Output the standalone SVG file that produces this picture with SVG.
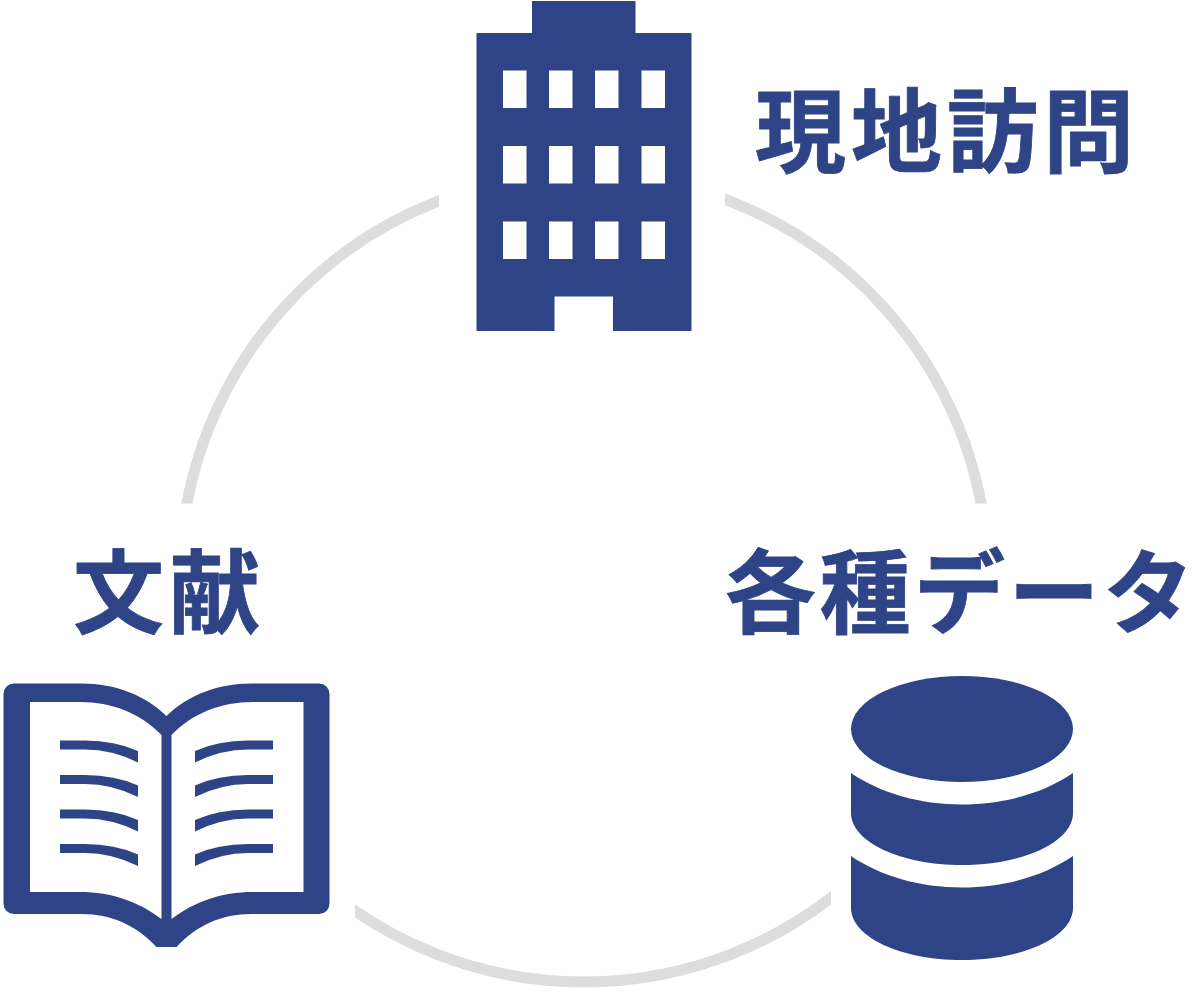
<svg xmlns="http://www.w3.org/2000/svg" xmlns:xlink="http://www.w3.org/1999/xlink" width="1200" height="998" viewBox="0 0 1200 998">
<style>
.ic{fill:#2f4486}
.win{fill:#fff}
.page{fill:#fff}
.ring{fill:none;stroke:#dcdddd;stroke-width:11}
.lb{font-family:"Noto Sans CJK JP","Noto Sans CJK SC",sans-serif;font-weight:700;font-size:91px;letter-spacing:5px;fill:#2f4486;stroke:#2f4486;stroke-width:.8px}
.lb.tight{letter-spacing:3.500px}
</style>
<defs>
<clipPath id="c1"><rect x="0" y="0" width="439" height="503.500"/></clipPath>
<clipPath id="c2"><rect x="725" y="0" width="475" height="503.500"/></clipPath>
<clipPath id="c3"><rect x="355" y="850" width="476" height="148"/></clipPath>
<path id="ln" d="M60 740.500H85Q115 740.500 138 751V762.500Q112 749.500 85 749.500H60Z"/>
</defs>
<rect width="1200" height="998" fill="#fff"/>
<g id="connectors">
<circle class="ring" cx="584" cy="578" r="404" clip-path="url(#c1)"/>
<circle class="ring" cx="584" cy="578" r="404" clip-path="url(#c2)"/>
<circle class="ring" cx="584" cy="578" r="404" clip-path="url(#c3)"/>
</g>
<g id="node-visit">
<path class="ic" d="M532 1H635.500V33H691.500V331H613V296.500H554.500V331H476.500V33H532Z"/>
<g class="win">
<rect x="503" y="70.500" width="23.500" height="37.500"/><rect x="549" y="70.500" width="23.500" height="37.500"/><rect x="595" y="70.500" width="23.500" height="37.500"/><rect x="641.500" y="70.500" width="23.500" height="37.500"/>
<rect x="503" y="146" width="23.500" height="37.500"/><rect x="549" y="146" width="23.500" height="37.500"/><rect x="595" y="146" width="23.500" height="37.500"/><rect x="641.500" y="146" width="23.500" height="37.500"/>
<rect x="503" y="221.500" width="23.500" height="37.500"/><rect x="549" y="221.500" width="23.500" height="37.500"/><rect x="595" y="221.500" width="23.500" height="37.500"/><rect x="641.500" y="221.500" width="23.500" height="37.500"/>
</g>
<text class="lb" x="755" y="165">現地訪問</text>
</g>
<g id="node-data">
<ellipse class="ic" cx="962" cy="729" rx="111" ry="53"/>
<path class="ic" d="M851 773C880 793 920 804.500 962 804.500S1044 793 1073 773V813C1073 842 1023 865 962 865S851 842 851 813Z"/>
<path class="ic" d="M851 856C880 876 920 887.500 962 887.500S1044 876 1073 856V908C1073 937 1023 960 962 960S851 937 851 908Z"/>
<text class="lb tight" x="725" y="626">各種データ</text>
</g>
<g id="node-literature">
<path class="ic" d="M14 683.500H82C115 683.500 145 695 166.500 716C188 695 218 683.500 251 683.500H319A10.500 10.500 0 0 1 329.500 694V903.500A10.500 10.500 0 0 1 319 914H251C222 914 197 925 176.500 947H156.500C136 925 111 914 82 914H14A10.500 10.500 0 0 1 3.500 903.500V694A10.500 10.500 0 0 1 14 683.500Z"/>
<path class="page" d="M30 702H80C112 702 140 713 161.500 735V919C139 902 112 892 80 892H30Z"/>
<path class="page" d="M303.500 702H253C221 702 193 713 171.500 735V919C194 902 221 892 253 892H303.500Z"/>
<g class="ic">
<use xlink:href="#ln"/><use xlink:href="#ln" y="34.500"/><use xlink:href="#ln" y="69"/><use xlink:href="#ln" y="103.500"/>
<use xlink:href="#ln" transform="matrix(-1 0 0 1 333 0)"/><use xlink:href="#ln" transform="matrix(-1 0 0 1 333 34.500)"/><use xlink:href="#ln" transform="matrix(-1 0 0 1 333 69)"/><use xlink:href="#ln" transform="matrix(-1 0 0 1 333 103.500)"/>
</g>
<text class="lb" x="73" y="626">文献</text>
</g>
</svg>
